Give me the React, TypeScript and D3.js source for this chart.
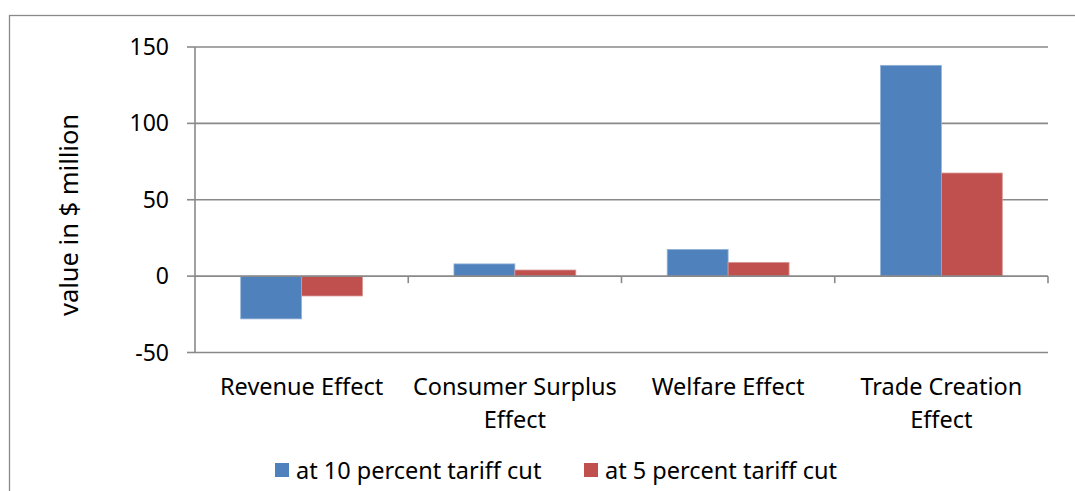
import * as d3 from 'd3';

const categories = ['Revenue Effect', 'Consumer Surplus Effect', 'Welfare Effect', 'Trade Creation Effect'];
const seriesNames = ['at 10 percent tariff cut', 'at 5 percent tariff cut'];
const tenPercent = [-28, 8, 17.5, 138];
const fivePercent = [-13, 4, 9, 67.5];
const yTicks = [-50, 0, 50, 100, 150];

const colors = ['#4F81BD', '#C0504D'];
const strokes = ['#95B3D7', '#D99694'];
const FONT = '"Noto Sans", "Open Sans", sans-serif';
const FS = 23.5;

function wrapLabel(label: string, maxWidth: number): string[] {
    const ctx = document.createElement('canvas').getContext('2d');
    if (!ctx) return [label];
    ctx.font = `${FS}px ${FONT}`;
    const words = label.split(' ');
    const lines: string[] = [];
    let cur = '';
    words.forEach(w => {
        const test = cur ? cur + ' ' + w : w;
        if (cur && ctx.measureText(test).width > maxWidth) {
            lines.push(cur);
            cur = w;
        } else {
            cur = test;
        }
    });
    if (cur) lines.push(cur);
    return lines;
}

export default function App() {
    const width = 1075;
    const height = 491;
    const margin = { top: 47, right: 27, bottom: 138.5, left: 195 };
    const plotRight = width - margin.right;
    const plotBottom = height - margin.bottom;

    const x = d3.scaleBand<string>()
        .domain(categories)
        .range([margin.left, plotRight]);

    // two bars per category, gap width 150%
    const x1 = d3.scaleBand<string>()
        .domain(seriesNames)
        .range([0, x.bandwidth()])
        .paddingInner(0)
        .paddingOuter(0.75);

    const y = d3.scaleLinear()
        .domain([-50, 150])
        .range([plotBottom, margin.top]);

    const values = [tenPercent, fivePercent];
    const grid = '#898989';

    return (
        <svg width={width} height={height} style={{ position: 'absolute', left: 0, top: 0 }}
            fontFamily={FONT}>
            <rect x={9.5} y={15.5} width={1200} height={600} fill="#fff" stroke="#8a8a8a" strokeWidth={1.3} />

            {/* gridlines */}
            {yTicks.filter(t => t !== 0).map(t => (
                <line key={t} x1={margin.left} x2={plotRight} y1={y(t)} y2={y(t)} stroke={grid} strokeWidth={1.6} />
            ))}

            {/* bars */}
            {values.map((vals, si) => vals.map((v, ci) => {
                const bx = (x(categories[ci]) ?? 0) + (x1(seriesNames[si]) ?? 0);
                return (
                    <rect key={`${si}-${ci}`} x={bx} width={x1.bandwidth()}
                        y={Math.min(y(v), y(0))} height={Math.abs(y(v) - y(0))}
                        fill={colors[si]} stroke={strokes[si]} strokeWidth={0.8} />
                );
            }))}

            {/* y axis */}
            <line x1={margin.left} x2={margin.left} y1={margin.top} y2={plotBottom} stroke={grid} strokeWidth={1.6} />
            {yTicks.map(t => (
                <g key={t}>
                    <line x1={margin.left - 8} x2={margin.left} y1={y(t)} y2={y(t)} stroke={grid} strokeWidth={1.6} />
                    <text x={169} y={y(t)} dy="0.35em" textAnchor="end" fontSize={FS - 0.5} fill="#000">{t}</text>
                </g>
            ))}

            {/* category axis at zero */}
            <line x1={margin.left} x2={plotRight} y1={y(0)} y2={y(0)} stroke={grid} strokeWidth={1.6} />
            {categories.map(c => (
                <line key={c} x1={(x(c) ?? 0) + x.bandwidth()} x2={(x(c) ?? 0) + x.bandwidth()}
                    y1={y(0)} y2={y(0) + 7} stroke={grid} strokeWidth={1.6} />
            ))}

            {/* category labels */}
            {categories.map(c => {
                const lines = wrapLabel(c, x.bandwidth() - 6);
                const cx = (x(c) ?? 0) + x.bandwidth() / 2;
                return (
                    <text key={c} x={cx} y={395} textAnchor="middle" fontSize={FS} fill="#000">
                        {lines.map((l, i) => (
                            <tspan key={i} x={cx} dy={i === 0 ? 0 : 33}>{l}</tspan>
                        ))}
                    </text>
                );
            })}

            {/* y label */}
            <text transform={`translate(78,${215}) rotate(-90)`} textAnchor="middle" fontSize={25.5} fill="#000">
                value in $ million
            </text>

            {/* legend */}
            {seriesNames.map((s, i) => {
                const lx = [275, 584][i];
                return (
                    <g key={s}>
                        <rect x={lx} y={463} width={14} height={14} fill={colors[i]} />
                        <text x={lx + 21} y={479} fontSize={FS} fill="#000">{s}</text>
                    </g>
                );
            })}
        </svg>
    );
}
